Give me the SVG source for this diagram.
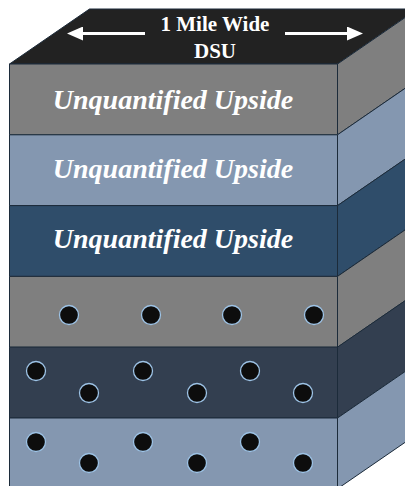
<svg xmlns="http://www.w3.org/2000/svg" width="405" height="486" viewBox="0 0 405 486">
<defs>
<style>
.face{stroke:#1c2b3a;stroke-width:1;stroke-linejoin:round}
.lbl{font-family:"Liberation Serif","Times New Roman",serif;font-weight:bold;fill:#ffffff;text-anchor:middle}
.up{font-size:28px;font-style:italic}
.top{font-size:21px}
.dot{fill:#0d0d0d;stroke:#9dc3e6;stroke-width:1.3}
.arr{stroke:#ffffff;stroke-width:3}
</style>
<marker id="ah" viewBox="0 0 16 14" refX="0" refY="7" markerWidth="16" markerHeight="14" markerUnits="userSpaceOnUse" orient="auto">
<path d="M0,0 L16,7 L0,14 Z" fill="#ffffff"/>
</marker>
</defs>
<rect width="405" height="486" fill="#ffffff"/>
<g id="top-face">
<polygon class="face" points="9.5,64 89.5,9 417.5,9 337.5,64" fill="#222222"/>
<text class="lbl top" x="215" y="31">1 Mile Wide</text>
<text class="lbl top" x="215" y="58">DSU</text>
</g>
<g id="layer1">
<rect class="face" x="9.5" y="64" width="328" height="70.8" fill="#7f7f7f"/>
<polygon class="face" points="337.5,64 417.5,9 417.5,79.8 337.5,134.8" fill="#7f7f7f"/>
<text class="lbl up" x="173" y="109">Unquantified Upside</text>
</g>
<g id="layer2">
<rect class="face" x="9.5" y="134.8" width="328" height="70.8" fill="#8497b0"/>
<polygon class="face" points="337.5,134.8 417.5,79.8 417.5,150.6 337.5,205.6" fill="#8497b0"/>
<text class="lbl up" x="173" y="178">Unquantified Upside</text>
</g>
<g id="layer3">
<rect class="face" x="9.5" y="205.6" width="328" height="70.8" fill="#2f4d6a"/>
<polygon class="face" points="337.5,205.6 417.5,150.6 417.5,221.4 337.5,276.4" fill="#2f4d6a"/>
<text class="lbl up" x="173" y="248">Unquantified Upside</text>
</g>
<g id="layer4">
<rect class="face" x="9.5" y="276.4" width="328" height="70.8" fill="#7f7f7f"/>
<polygon class="face" points="337.5,276.4 417.5,221.4 417.5,292.2 337.5,347.2" fill="#7f7f7f"/>
<circle class="dot" cx="69" cy="315" r="9.5"/>
<circle class="dot" cx="151" cy="315" r="9.5"/>
<circle class="dot" cx="232" cy="315" r="9.5"/>
<circle class="dot" cx="314" cy="315" r="9.5"/>
</g>
<g id="layer5">
<rect class="face" x="9.5" y="347.2" width="328" height="70.8" fill="#333f50"/>
<polygon class="face" points="337.5,347.2 417.5,292.2 417.5,363 337.5,418" fill="#333f50"/>
<circle class="dot" cx="36" cy="371" r="9.5"/>
<circle class="dot" cx="143" cy="371" r="9.5"/>
<circle class="dot" cx="250" cy="371" r="9.5"/>
<circle class="dot" cx="89" cy="393" r="9.5"/>
<circle class="dot" cx="197" cy="393" r="9.5"/>
<circle class="dot" cx="303" cy="393" r="9.5"/>
</g>
<g id="layer6">
<rect class="face" x="9.5" y="418" width="328" height="70.8" fill="#8497b0"/>
<polygon class="face" points="337.5,418 417.5,363 417.5,433.8 337.5,488.8" fill="#8497b0"/>
<circle class="dot" cx="36" cy="442" r="9.5"/>
<circle class="dot" cx="143" cy="442" r="9.5"/>
<circle class="dot" cx="250" cy="442" r="9.5"/>
<circle class="dot" cx="89" cy="463" r="9.5"/>
<circle class="dot" cx="197" cy="463" r="9.5"/>
<circle class="dot" cx="303" cy="463" r="9.5"/>
</g>
<g id="connectors">
<line class="arr" x1="145" y1="33.5" x2="83" y2="33.5" marker-end="url(#ah)"/>
<line class="arr" x1="285" y1="33.5" x2="347" y2="33.5" marker-end="url(#ah)"/>
</g>
</svg>
